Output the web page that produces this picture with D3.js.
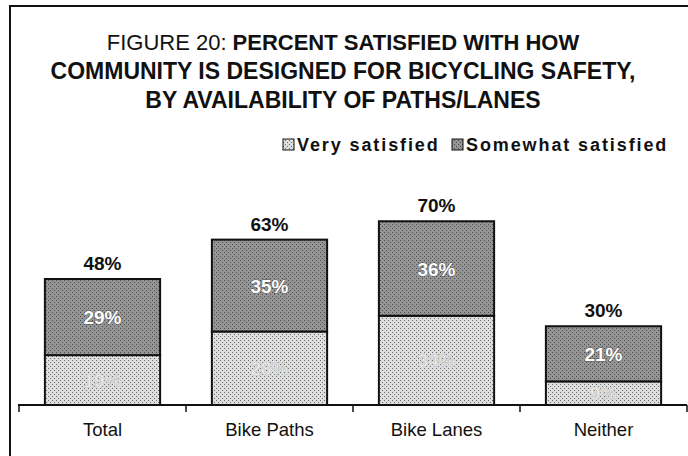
<!DOCTYPE html>
<html>
<head>
<meta charset="utf-8">
<script src="https://cdn.jsdelivr.net/npm/d3@7"></script>
<style>
body { margin: 0; background: #fff; }
text { font-family: "Liberation Sans", Arial, sans-serif; }
</style>
</head>
<body>
<div class="container"></div>
<script>

var categories = ["Total", "Bike Paths", "Bike Lanes", "Neither"];
var verySatisfied = [19, 28, 34, 9];
var somewhatSatisfied = [29, 35, 36, 21];
var totals = [48, 63, 70, 30];
var seriesNames = ["Very satisfied", "Somewhat satisfied"];

var W = 688, H = 456;

var svg = d3.select(".container")
			.append("svg")
			.attr("width", W)
			.attr("height", H);

// textures for the two segments
var defs = svg.append("defs");
function makePattern(id, bg, dot, spacing) {
	var p = defs.append("pattern")
				.attr("id", id)
				.attr("patternUnits", "userSpaceOnUse")
				.attr("width", spacing * 2)
				.attr("height", spacing * 2);
	p.append("rect").attr("width", spacing * 2).attr("height", spacing * 2).style("fill", bg);
	p.append("rect").attr("x", 0).attr("y", 0).attr("width", 1).attr("height", 1).style("fill", dot);
	p.append("rect").attr("x", spacing).attr("y", spacing).attr("width", 1).attr("height", 1).style("fill", dot);
}
makePattern("light", "#dedede", "#6a6a6a", 2);
makePattern("dark", "#959595", "#4a4a4a", 2);

// frame
svg.append("path")
   .attr("d", "M10," + H + " L10,6 L" + W + ",6")
   .style("fill", "none")
   .style("stroke", "#111")
   .style("stroke-width", 2);

// title
var tx = 343;
var title = svg.append("text")
			   .attr("text-anchor", "middle")
			   .style("font-size", "23px")
			   .style("fill", "#111");
var t1 = title.append("tspan").attr("x", tx).attr("y", 50).style("font-size", "22px");
t1.append("tspan").text("FIGURE 20:");
t1.append("tspan").attr("dx", 6).style("font-weight", "bold").text("PERCENT SATISFIED WITH HOW");
title.append("tspan").attr("x", tx).attr("y", 79).style("font-weight", "bold")
	 .text("COMMUNITY IS DESIGNED FOR BICYCLING SAFETY,");
title.append("tspan").attr("x", tx).attr("y", 108).style("font-weight", "bold")
	 .text("BY AVAILABILITY OF PATHS/LANES");

var x = d3.scaleBand()
		  .domain(categories)
		  .range([19, 687])
		  .paddingInner(0.31)
		  .paddingOuter(0.155);

var y = d3.scaleLinear()
		  .domain([0, 100])
		  .range([405, 142.5]);

// legend
var legend = svg.append("g").attr("transform", "translate(283,146)");
var legendX = [0, 169];
seriesNames.forEach(function (name, i) {
	var g = legend.append("g").attr("transform", "translate(" + legendX[i] + ",0)");
	g.append("rect")
	 .attr("x", 0).attr("y", -7)
	 .attr("width", 11).attr("height", 11)
	 .style("fill", i == 0 ? "url(#light)" : "url(#dark)")
	 .style("stroke", "#111");
	g.append("text")
	 .attr("x", 14).attr("y", 5)
	 .style("font-size", "18px")
	 .style("font-weight", "bold")
	 .style("letter-spacing", "1.9px")
	 .style("fill", "#111")
	 .text(name);
});

// stacked bars
var rows = categories.map(function (c, i) {
	return { cat: c, very: verySatisfied[i], some: somewhatSatisfied[i], total: totals[i] };
});

var bars = svg.append("g").selectAll("g")
			  .data(rows)
			  .enter().append("g");

bars.append("rect")
	.attr("x", function (d) { return x(d.cat); })
	.attr("y", function (d) { return y(d.very); })
	.attr("width", x.bandwidth())
	.attr("height", function (d) { return y(0) - y(d.very); })
	.style("fill", "url(#light)")
	.style("stroke", "#111")
	.style("stroke-width", 2);

bars.append("rect")
	.attr("x", function (d) { return x(d.cat); })
	.attr("y", function (d) { return y(d.very + d.some); })
	.attr("width", x.bandwidth())
	.attr("height", function (d) { return y(d.very) - y(d.very + d.some); })
	.style("fill", "url(#dark)")
	.style("stroke", "#111")
	.style("stroke-width", 2);

// segment labels
bars.append("text")
	.attr("x", function (d) { return x(d.cat) + x.bandwidth() / 2; })
	.attr("y", function (d) { return (y(0) + y(d.very)) / 2 + 7; })
	.attr("text-anchor", "middle")
	.style("font-size", "19px")
	.style("font-weight", "bold")
	.style("fill", "#eaeaea")
	.style("stroke", "#c4c4c4")
	.style("stroke-width", 0.6)
	.text(function (d) { return d.very + "%"; });

bars.append("text")
	.attr("x", function (d) { return x(d.cat) + x.bandwidth() / 2; })
	.attr("y", function (d) { return (y(d.very) + y(d.very + d.some)) / 2 + 7; })
	.attr("text-anchor", "middle")
	.style("font-size", "19px")
	.style("font-weight", "bold")
	.style("fill", "#fff")
	.style("stroke", "#555")
	.style("stroke-width", 1)
	.style("paint-order", "stroke")
	.text(function (d) { return d.some + "%"; });

// totals
bars.append("text")
	.attr("x", function (d) { return x(d.cat) + x.bandwidth() / 2; })
	.attr("y", function (d) { return y(d.total) - 9; })
	.attr("text-anchor", "middle")
	.style("font-size", "19px")
	.style("font-weight", "bold")
	.style("fill", "#111")
	.text(function (d) { return d.total + "%"; });

// axis
var axis = svg.append("g").attr("transform", "translate(0," + y(0) + ")");
axis.append("line")
	.attr("x1", 18).attr("x2", 687)
	.style("stroke", "#111")
	.style("stroke-width", 2);
var tickPos = [19].concat(categories.map(function (c) { return x(c) + x.bandwidth() + x.step() * x.paddingInner() / 2; }));
axis.selectAll(".tk")
	.data(tickPos)
	.enter().append("line")
	.attr("x1", function (d) { return d; })
	.attr("x2", function (d) { return d; })
	.attr("y1", 0).attr("y2", 7)
	.style("stroke", "#111")
	.style("stroke-width", 1.5);
axis.selectAll(".lbl")
	.data(categories)
	.enter().append("text")
	.attr("x", function (d) { return x(d) + x.bandwidth() / 2; })
	.attr("y", 31)
	.attr("text-anchor", "middle")
	.style("font-size", "18.5px")
	.style("fill", "#111")
	.text(function (d) { return d; });

</script>
</body>
</html>
